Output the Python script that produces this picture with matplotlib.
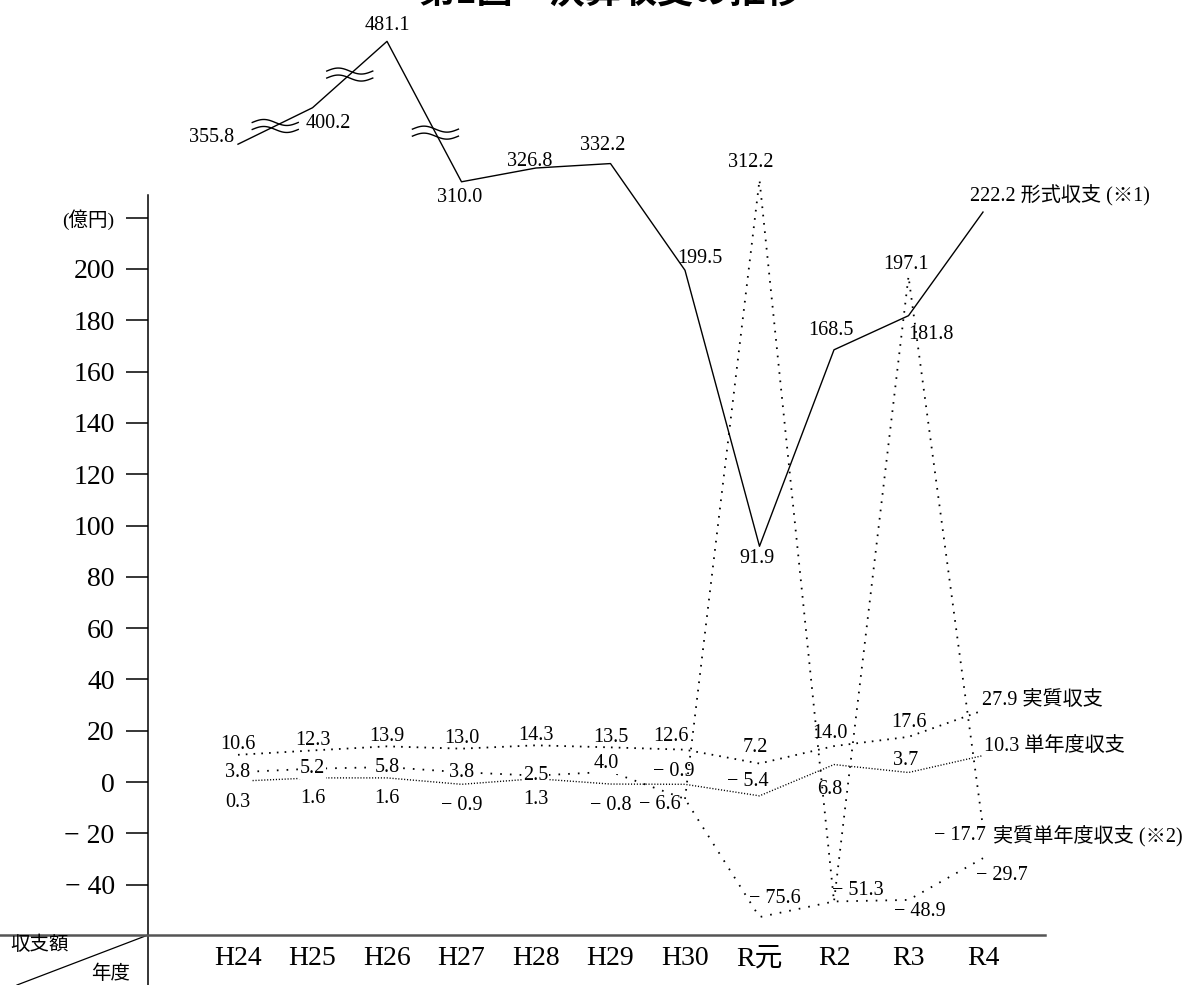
import numpy as np
import matplotlib
matplotlib.use('Agg')
import matplotlib.pyplot as plt
from matplotlib.transforms import IdentityTransform

years = ['H24', 'H25', 'H26', 'H27', 'H28', 'H29', 'H30', 'R元', 'R2', 'R3', 'R4']
keishiki = [355.8, 400.2, 481.1, 310.0, 326.8, 332.2, 199.5, 91.9, 168.5, 181.8, 222.2]  # 形式収支
jisshitsu = [10.6, 12.3, 13.9, 13.0, 14.3, 13.5, 12.6, 7.2, 14.0, 17.6, 27.9]  # 実質収支
tannendo = [0.3, 1.6, 1.6, -0.9, 1.3, -0.8, -0.9, -5.4, 6.8, 3.7, 10.3]  # 単年度収支
jt_tannendo = [3.8, 5.2, 5.8, 3.8, 2.5, 4.0, -6.6, -75.6, -51.3, -48.9, -29.7]  # 実質単年度収支
jt_tannendo2 = [np.nan] * 6 + [-6.6, 312.2, -51.3, 197.1, -17.7]  # 実質単年度収支 (※2)

W, H = 1193, 985
plt.rcParams['font.family'] = ['Liberation Serif', 'Noto Sans CJK JP', 'DejaVu Serif']
plt.rcParams['lines.scale_dashes'] = False


def squeeze(values):  # values past the wavy breaks are drawn squeezed, like the original
    v = np.array(values, dtype=float)
    out = v.copy()
    hi = v > 250
    out[hi] = 234 + (v[hi] - 310) * 0.32
    lo = v < -45
    out[lo] = -45 + (v[lo] + 45) * 0.25
    return out


def fmt(v):
    return ('− ' if v < 0 else '') + '%.1f' % abs(v)


fig = plt.figure(figsize=(W / 100, H / 100), dpi=100)
ax = fig.add_axes([0, 0, 1045 / W, 1])
x = np.arange(len(years))
px_x = 74.5   # pixels per year
px_y = 2.565  # pixels per 億円
ax.set_xlim(-238 / px_x, (1045 - 238) / px_x)
ax.set_ylim(-(985 - 782) / px_y, 782 / px_y)

x_axis = (148 - 238) / px_x
y_base = -(935 - 782) / px_y
ax.spines['left'].set_position(('data', x_axis))
ax.spines['left'].set_bounds(ax.get_ylim()[0], 228.8)
ax.spines['left'].set_linewidth(1.1)
ax.spines['bottom'].set_position(('data', y_base))
ax.spines['bottom'].set_linewidth(1.8)
ax.spines['bottom'].set_color('#555555')
ax.spines['right'].set_visible(False)
ax.spines['top'].set_visible(False)

ticks = list(range(-40, 201, 20))
ax.set_yticks(ticks + [220])
ax.set_yticklabels([('− %d' % -t) if t < 0 else str(t) for t in ticks] + ['(億円)'])
ax.tick_params(axis='y', direction='out', length=16, width=1.1, pad=8, labelsize=20)
ax.get_yticklabels()[-1].set_fontsize(14)
ax.set_xticks(x)
ax.set_xticklabels(years)
ax.tick_params(axis='x', length=0, pad=8, labelsize=20)

ks = squeeze(keishiki)
ax.plot(x, ks, color='black', lw=1.0)
ax.plot(x, jisshitsu, color='black', lw=1.3, linestyle=(0, (1.2, 4.4)))
ax.plot(x, tannendo, color='black', lw=1.0, linestyle=(0, (0.8, 1.3)))
ax.plot(x, squeeze(jt_tannendo), color='black', lw=1.3, linestyle=(0, (1.2, 5.8)))
ax.plot(x, squeeze(jt_tannendo2), color='black', lw=1.3, linestyle=(0, (1.2, 4.8)))


def put(xi, yv, text, dx, dy, ha='center', size=14.5, box=False):
    ax.annotate(text, (xi, yv), xytext=(dx, dy), textcoords='offset pixels',
                ha=ha, va='center', fontsize=size,
                bbox=dict(fc='white', ec='none', pad=0.5) if box else None)


# 形式収支 labels
k_off = [(-4, 7, 'right'), (16, -16, 'center'), (0, 16, 'center'), (-2, -16, 'center'),
         (-6, 7, 'center'), (-8, 18, 'center'), (15, 12, 'center'), (-2, -12, 'center'),
         (-3, 19, 'center'), (22, -19, 'center'), (-13, 16, 'left')]
for i in range(len(years)):
    txt = fmt(keishiki[i])
    if i == len(years) - 1:
        txt += ' 形式収支 (※1)'
    put(x[i], ks[i], txt, k_off[i][0], k_off[i][1], k_off[i][2])

# 実質収支 labels
j_off = [(0, 10)] * 6 + [(-14, 13), (-4, 16), (-4, 13), (0, 14), (-1, 10)]
for i in range(len(years)):
    if i == len(years) - 1:
        put(x[i], jisshitsu[i], fmt(jisshitsu[i]) + ' 実質収支', j_off[i][0], j_off[i][1], 'left')
    else:
        put(x[i], jisshitsu[i], fmt(jisshitsu[i]), j_off[i][0], j_off[i][1])

# 単年度収支 labels
t_off = [(0, -21)] * 6 + [(-11, 13), (-12, 14), (-4, -25), (-3, 12), (1, 9)]
for i in range(len(years)):
    if i == len(years) - 1:
        put(x[i], tannendo[i], fmt(tannendo[i]) + ' 単年度収支', t_off[i][0], t_off[i][1], 'left')
    else:
        put(x[i], tannendo[i], fmt(tannendo[i]), t_off[i][0], t_off[i][1])

# 実質単年度収支 labels
js = squeeze(jt_tannendo)
s_off = [(0, 0)] * 5 + [(-4, 8), (-25, -6), (15, 19), (24, 11), (11, -12), (19, -17)]
for i in range(len(years)):
    put(x[i], js[i], fmt(jt_tannendo[i]), s_off[i][0], s_off[i][1], box=(i < 6))

js2 = squeeze(jt_tannendo2)
put(x[7], js2[7], fmt(jt_tannendo2[7]), -9, 17)
put(x[9], js2[9], fmt(jt_tannendo2[9]), -3, 12)
put(x[10], js2[10], fmt(jt_tannendo2[10]), 3, -8, 'right')
put(x[10], js2[10], '実質単年度収支 (※2)', 10, -8, 'left', size=14.5)

# wavy break marks on the squeezed segments
t = np.linspace(-23, 23, 60)
for i, f in [(0, 0.5), (1, 0.5), (2, 0.65)]:
    cx, cy = ax.transData.transform((x[i] + f, ks[i] + f * (ks[i + 1] - ks[i])))
    for off in (-3.5, 3.5):
        ax.plot(cx + t, cy + off + 3 * np.sin(np.pi * (t + 23) / 23), color='black',
                lw=1.0, transform=IdentityTransform(), clip_on=False)

# corner header
ax.plot([x_axis, -(238 - 17) / px_x], [y_base, ax.get_ylim()[0]], color='black', lw=0.9, clip_on=False)
fig.text(10 / W, 1 - 945 / H, '収支額', ha='left', va='center', fontsize=14)
fig.text(130 / W, 1 - 974 / H, '年度', ha='right', va='center', fontsize=14)

fig.text(610 / W, 1 - 10 / H, '第1図　決算収支の推移', ha='center', va='bottom',
         fontsize=26, fontweight='bold', family=['Noto Sans CJK JP'])

plt.savefig('out.png', dpi=100)
